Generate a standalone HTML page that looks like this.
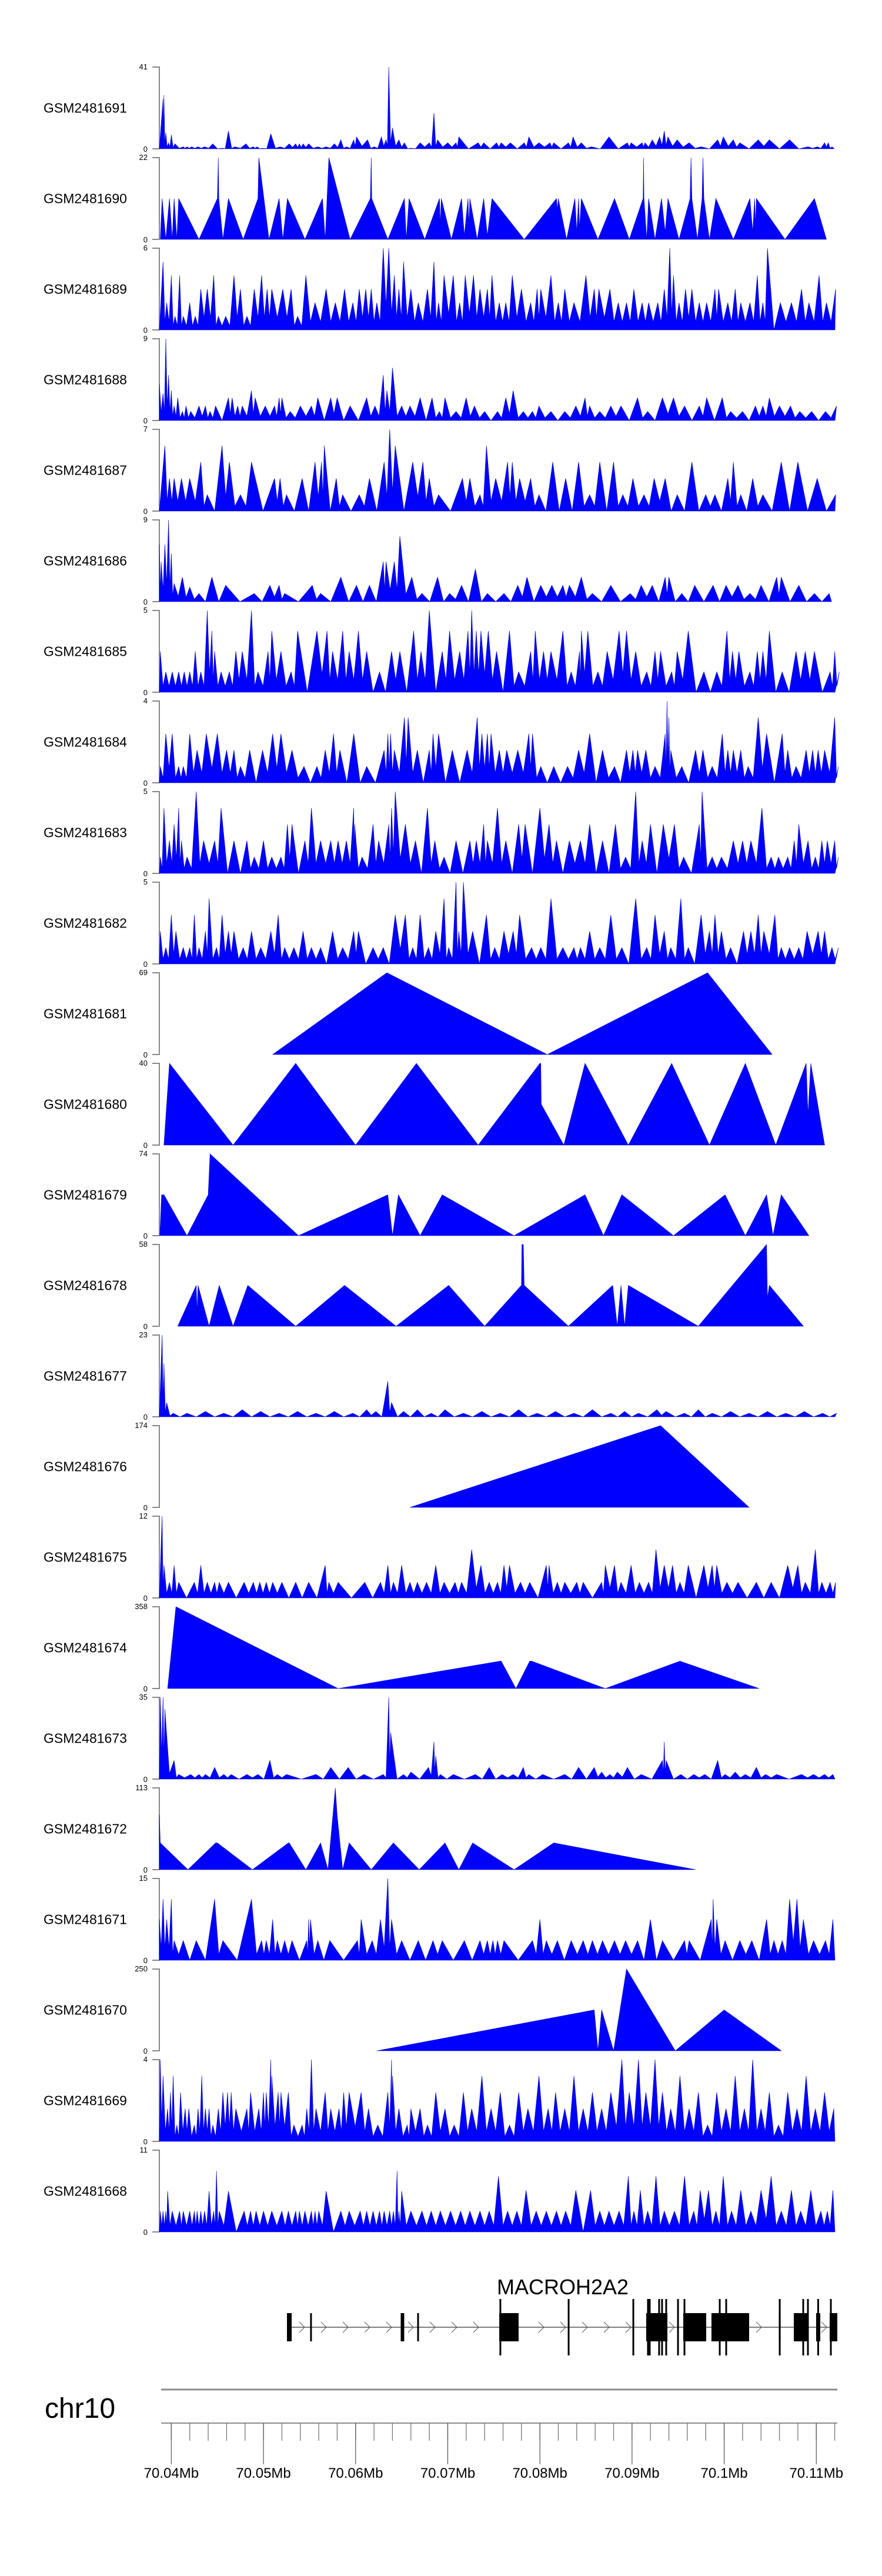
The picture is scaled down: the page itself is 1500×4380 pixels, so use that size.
<!DOCTYPE html>
<html><head><meta charset="utf-8"><title>GSM coverage tracks - MACROH2A2</title>
<style>
html,body{margin:0;padding:0;background:#fff;}
svg{display:block;font-family:"Liberation Sans",Arial,sans-serif;}
</style></head>
<body>
<svg id="fig" width="1500" height="4380" viewBox="0 0 1500 4380" xmlns="http://www.w3.org/2000/svg"></svg>
<script>
// ---------- data ----------
const sampleNames = ['GSM2481691','GSM2481690','GSM2481689','GSM2481688','GSM2481687','GSM2481686','GSM2481685','GSM2481684','GSM2481683','GSM2481682','GSM2481681','GSM2481680','GSM2481679','GSM2481678','GSM2481677','GSM2481676','GSM2481675','GSM2481674','GSM2481673','GSM2481672','GSM2481671','GSM2481670','GSM2481669','GSM2481668'];
const yMax = [41,22,6,9,7,9,5,4,5,5,69,40,74,58,23,174,12,358,35,113,15,250,4,11];
const drawMode = ['spike','line','spike','spike','spike','spike','spike','spike','spike','spike','line','line','line','line','spike','line','spike','line','spike','line','spike','line','spike','spike'];

// positions in kb from region start (70.0387 Mb)
const pos_1691 = [0.4,0.5,0.7,1.0,1.3,1.7,2.6,3.0,3.5,4.2,4.9,5.8,6.8,7.5,8.2,9.4,10.2,10.6,11.2,12.1,13.1,14.1,14.8,15.2,15.6,16.2,17.2,18.1,19.0,19.7,20.3,21.1,21.4,22.6,23.3,24.1,24.6,24.9,25.3,26.0,26.6,27.3,28.3,29.3,29.8,30.2,31.3,32.2,32.5,34.6,35.2,36.6,37.1,38.1,39.6,40.1,41.2,42.4,42.8,44.4,44.9,45.8,46.9,48.8,50.8,51.2,52.4,52.7,53.5,54.3,54.8,55.2,56.2,57.5,58.8,60.6,61.2,62.3,63.0,65.0,66.2,68.4,70.4,71.4,72.2,72.6,73.0];
const val_1691 = [25,27,8,3,7,2.5,1,1,1,1,1,2.5,0.3,9,1,2.5,1,1,0.3,7.5,1,2.5,2.5,2.5,2.5,2.5,1,1,2.5,4.5,1,4.5,6,4.5,1,6,4.5,41,10.5,4.5,3,0.3,3,3,18,4.5,3,3,6,3,3,3,3,3,3,6,3,3,3,3,6,3,1,6,3,3,3,3,4.5,6,9,6,4.5,3,1,4.5,6,4.5,3,4.5,4.5,4.5,1,1,3,3,1];

const pos_1690 = [0.1,0.3,0.7,1.1,1.4,1.6,1.9,2.1,4.3,6.3,6.4,6.45,6.9,7.5,9.1,10.7,10.8,11.9,13.0,13.4,13.9,15.8,17.7,18.0,18.4,20.7,22.9,23.0,23.05,24.8,26.6,26.8,27.1,28.8,30.4,30.5,30.6,31.7,32.8,33.1,33.5,33.6,33.7,34.5,35.2,35.6,36.1,39.6,43.1,43.2,43.3,44.2,45.1,45.3,45.5,45.6,45.8,47.6,49.4,51.0,52.5,52.55,52.6,52.9,53.1,53.8,54.5,54.9,55.2,56.4,57.6,57.7,57.8,58.4,58.9,59.0,59.1,59.7,60.4,62.3,64.1,64.4,64.6,64.7,64.8,67.9,71.1,72.4];
const val_1690 = [0,11,0,11,0,11,0,11,0,11,22,11,0,11,0,11,22,0,11,0,11,0,11,0,22,0,11,22,11,0,11,0,11,0,11,4,11,0,11,1,11,4,11,0,11,1,11,0,11,8,11,0,11,2,11,3,11,0,11,0,11,22,11,0,11,0,11,2,11,0,11,22,11,0,11,22,11,0,11,0,11,2,11,4,11,0,11,0];

const pos_1689 = [0.4,0.8,1.3,1.7,2.2,2.6,3.3,3.9,4.5,5.2,5.9,6.4,7.2,8.1,8.8,9.5,10.3,11.1,11.7,12.2,13.4,14.3,15.0,15.9,16.9,18.1,19.1,20.1,21.0,21.7,22.4,23.0,23.6,24.3,24.9,25.5,26.0,26.5,27.3,28.1,29.1,29.8,30.3,30.9,31.9,32.6,33.2,34.1,34.8,35.6,36.1,36.9,37.6,38.3,39.3,40.3,41.0,41.4,42.5,43.3,44.0,45.0,46.3,47.2,47.7,48.9,49.8,50.7,51.5,52.4,53.1,54.1,54.8,55.4,55.8,56.4,57.1,57.8,58.6,59.4,60.3,60.7,61.7,62.5,63.1,64.1,64.9,65.5,66.0,67.4,68.6,69.7,70.5,71.6,72.4,73.4];
const val_1689 = [5,2,4,1,4,1,2,1,3,3,4,1,1,4,3,1,3,4,3,3,3,3,1,4,2,3,2,3,2,3,3,3,2,6,6,4,3,5,3,2,3,5,2,4,4,2,4,4,3,3,4,2,2,4,3,2,3,3,4,2,3,2,4,3,3,3,2,2,3,2,2,2,3,6,4,2,3,3,2,2,3,3,2,3,2,2,4,2,6,2,2,3,2,4,2,3];

const pos_1688 = [0,0.4,0.7,1.0,1.3,1.6,2.0,2.5,2.9,3.4,4.3,5.0,5.5,6.1,7.5,7.9,8.5,9.0,10.0,10.4,11.5,12.5,13.0,13.3,14.2,15.3,16.5,17.2,18.6,19.3,20.7,22.5,23.4,24.3,24.7,25.3,26.3,27.2,28.3,29.6,30.4,31.0,32.2,33.3,34.2,35.3,36.7,37.6,38.4,39.5,40.5,41.2,42.5,44.0,45.2,46.2,46.7,47.8,49.0,50.1,51.9,53.0,54.6,55.8,57.0,58.6,59.4,61.1,62.0,63.3,64.7,65.5,66.2,67.3,68.5,69.5,70.8,72.3,73.5];
const val_1688 = [4,3,9,5,3.3,1.6,2.5,1,1.6,1,1.6,1.6,1,1.6,2.5,2.5,1.6,1.6,3.3,2.5,1.6,1.6,2.5,2.5,1,1.6,1.6,2.5,2.5,2.5,1.6,2.5,1.6,5,3.3,5.8,1.6,1.6,2.5,2.5,1,2.5,1,2.5,1.6,1,1,2.5,3.3,1,1,1.6,1,1,1.6,2.5,1.6,1,1.6,1.6,2.5,1,2.5,2.5,1.6,1.6,2.5,2.5,1,1,1.6,1.6,2.5,1.6,1.6,1,1,1,1.6];

const pos_1687 = [0.6,1.1,1.6,2.4,3.3,4.5,5.2,6.8,7.6,8.8,10.0,12.5,13.1,13.8,15.5,16.9,17.6,17.9,19.2,19.9,21.7,22.8,24.4,25.0,25.6,27.5,28.6,29.3,30.3,32.9,33.7,34.8,35.5,36.5,37.8,38.3,39.1,40.3,41.2,42.7,44.1,45.5,46.7,47.8,49.3,50.3,51.4,52.6,53.7,54.9,56.2,57.8,59.3,60.3,61.7,62.3,63.1,64.4,65.5,67.5,69.3,71.4,73.4];
const val_1687 = [5.6,2.8,2.8,2.8,2.8,4.2,1.4,5.6,4.2,1.4,4.2,2.8,2.8,1.4,2.8,4.2,4.2,5.6,2.8,1.4,1.4,2.8,4.2,7,5.6,4.2,4.2,2.8,1.4,2.8,2.8,1.4,5.6,2.8,4.2,4.2,2.8,2.8,1.4,4.2,2.8,4.2,1.4,4.2,4.2,1.4,2.8,1.4,2.8,2.8,1.4,4.2,1.4,1.4,2.8,4.2,1.4,2.8,1.4,4.2,4.2,2.8,1.4];

const pos_1686 = [0.0,0.2,0.6,1.0,1.3,1.6,2.5,3.3,4.3,5.7,7.2,10.3,12.0,13.0,13.6,16.6,17.5,19.7,21.4,22.8,24.3,24.6,25.5,26.1,27.4,28.5,30.2,31.5,32.8,34.3,35.6,37.4,38.9,39.9,41.4,42.6,43.8,44.5,45.8,47.0,49.0,51.1,52.3,53.5,54.9,55.3,56.7,58.1,60.1,61.5,62.8,64.1,65.3,67.0,67.5,69.4,71.1,72.7];
const val_1686 = [6.3,4.4,6.3,9,5.3,2,2.7,1.6,0.9,2.7,1.8,0.9,1.8,1.8,0.9,1.8,0.9,2.7,1.8,1.8,4.4,4.4,4.4,7.2,2.7,0.9,2.7,0.9,1.8,3.6,0.9,0.9,1.8,2.7,1.8,1.8,1.8,1.8,2.7,0.9,1.8,0.9,1.8,1.8,2.7,2.7,0.9,1.8,1.8,1.8,1.8,0.9,1.8,2.7,2.7,1.8,0.9,0.9];

const pos_1685 = [0.1,0.7,1.4,2.1,2.7,3.3,3.9,4.5,5.2,5.7,6.0,6.7,7.6,8.3,9.0,10.0,10.7,11.8,12.2,13.2,14.3,15.0,17.1,18.2,18.8,19.9,20.6,21.6,22.5,23.9,25.2,26.1,27.6,28.4,29.3,30.7,31.5,32.6,33.5,33.9,34.4,34.9,35.7,36.6,38.0,39.0,40.3,40.8,41.7,42.5,43.8,44.7,45.6,45.8,46.5,47.6,48.6,49.9,50.7,51.7,52.9,53.8,54.4,55.6,56.2,57.4,59.1,60.5,61.6,62.2,62.9,64.1,64.9,65.5,66.2,67.6,69.1,70.1,71.1,72.8,73.3,73.8];
const val_1685 = [2.5,1.25,1.25,1.25,1.25,1.25,2.5,1.25,5,3.75,2.5,1.25,1.25,2.5,2.5,5,1.25,2.5,3.75,2.5,1.25,3.75,3.75,3.75,2.5,3.75,2.5,3.75,2.5,1.25,2.5,2.5,3.75,2.5,5,2.5,3.75,2.5,3.75,5,3.75,3.75,3.75,2.5,3.75,1.25,2.5,3.75,2.5,2.5,3.75,1.25,2.5,3.75,3.75,1.25,2.5,3.75,3.75,2.5,1.25,2.5,2.5,1.25,2.5,3.75,1.25,1.25,3.75,2.5,2.5,1.25,2.5,2.5,3.75,1.25,2.5,2.5,2.5,1.25,2.5,1.25];

const pos_1684 = [0.1,0.7,1.4,2.1,2.6,3.3,4.1,5.1,6.3,7.3,8.1,8.8,9.8,11.2,12.3,13.2,14.4,15.7,17.1,18.0,18.9,19.6,21.1,22.5,24.4,24.8,25.1,25.5,26.6,27.0,28.0,29.3,29.7,30.3,31.8,33.4,34.5,35.0,35.6,36.0,36.9,37.7,38.9,40.1,40.5,41.4,42.8,44.3,45.5,46.7,48.1,49.4,50.7,51.4,51.9,52.8,53.8,54.9,55.1,55.3,55.5,56.7,58.2,59.0,60.0,61.1,61.7,62.3,63.1,63.9,65.0,65.9,67.6,68.2,69.1,70.2,70.9,71.5,72.2,73.3,73.7];
const val_1684 = [0.8,2.4,2.4,0.8,0.8,2.4,1.6,2.4,2.4,1.6,1.6,0.8,1.6,1.6,2.4,2.4,1.6,0.8,0.8,1.6,2.4,1.6,2.4,0.8,1.6,2.4,2.4,1.6,3.2,3.2,1.6,1.6,2.4,2.4,1.6,1.6,3.2,2.4,2.4,2.4,1.6,1.6,1.6,2.4,2.4,0.8,0.8,0.8,1.6,2.4,1.6,0.8,1.6,1.6,1.6,1.6,0.8,2.4,4,3.2,1.6,0.8,1.6,1.6,0.8,2.4,1.6,1.6,1.6,0.8,3.2,2.4,2.4,1.6,0.8,1.6,1.6,1.6,1.6,3.2,0.8];

const pos_1683 = [0.1,0.5,1.1,1.6,2.1,2.4,3.0,4.0,4.8,6.0,6.7,8.1,9.5,10.3,11.3,12.2,13.2,13.9,14.4,15.8,16.5,17.5,18.6,19.4,20.3,21.1,21.2,22.0,23.2,23.8,24.9,25.2,25.6,26.7,27.8,29.1,29.9,30.9,32.2,33.7,34.4,35.2,35.6,36.7,37.6,39.0,39.7,41.3,42.3,43.1,44.5,45.7,46.7,48.1,49.5,50.6,51.7,52.4,53.3,54.7,55.9,56.9,58.6,58.9,60.0,61.0,62.3,63.3,64.2,65.4,66.4,67.2,68.2,68.9,69.4,70.4,71.2,71.9,72.5,73.3,73.7];
const val_1683 = [1,4,2,3,4,2,1,5,2,2,4,2,2,1,2,1,1,3,3,2,4,2,2,2,2,4,3,1,3,2,3,4,5,3,2,4,2,1,2,2,2,3,2,4,2,3,3,4,3,2,2,2,3,2,3,1,5,2,3,3,3,1,3,5,1,1,2,2,2,4,1,1,1,2,3,2,1,2,2,2,1];

const pos_1682 = [0.1,0.7,1.3,1.8,2.6,3.3,3.8,4.3,5.0,5.4,6.2,6.8,7.5,8.1,9.1,10.0,11.0,12.1,12.9,13.6,14.6,15.6,16.5,17.5,18.8,19.9,21.1,21.6,23.2,24.3,25.6,26.7,27.5,28.3,29.2,30.0,30.9,31.4,32.2,32.5,33.0,34.0,35.5,36.4,37.4,38.4,39.1,40.4,41.4,42.5,43.8,45.0,45.7,46.7,47.8,49.0,50.2,51.7,52.9,53.8,54.8,55.5,56.6,57.4,58.8,59.7,60.3,61.0,62.0,63.4,64.2,65.0,65.6,66.8,67.5,68.4,69.4,70.3,71.5,72.2,73.0,73.7];
const val_1682 = [2,1,3,2,1,1,3,1,2,4,1,3,2,2,1,2,1,2,3,1,1,2,1,1,2,1,2,2,1,1,3,3,1,3,1,2,4,1,5,2,5,2,3,1,2,2,3,1,1,4,1,1,1,2,1,3,1,4,1,3,2,1,4,1,3,2,3,2,1,2,2,3,2,3,1,1,1,2,2,2,1,1];

const pos_1681 = [12.3,24.7,42.1,59.5,66.5];
const val_1681 = [0,69,0,69,0];

const pos_1680 = [0.5,1.1,8.0,14.8,21.3,27.9,34.6,41.3,41.4,41.45,43.9,46.2,50.9,55.6,59.7,63.6,66.9,70.2,70.4,70.7,72.2];
const val_1680 = [0,40,0,40,0,40,0,40,40,20,0,40,0,40,0,40,0,40,15,40,0];

const pos_1679 = [0.05,0.24,0.5,3.0,5.3,5.5,15.1,24.8,25.3,25.95,28.3,30.7,38.5,46.2,48.2,50.2,55.8,61.4,63.6,65.9,66.6,67.5,70.5];
const val_1679 = [0,37,37,0,37,74,0,37,0,37,0,37,0,37,0,37,0,37,0,37,0,37,0];

const pos_1678 = [2.0,4.0,4.1,4.2,5.4,6.5,8.0,9.6,14.8,20.1,25.7,31.4,35.3,39.3,39.35,39.5,39.6,44.4,49.2,49.7,50.1,50.5,50.9,58.5,65.9,66.0,66.2,69.9];
const val_1678 = [0,29,10,29,0,29,0,29,0,29,0,29,0,29,58,58,29,0,29,0,29,0,29,0,58,20,29,0];

const pos_1677 = [0.3,0.5,0.8,1.5,3.0,5.0,7.0,9.0,11.0,13.0,15.0,17.0,19.0,21.0,22.5,23.5,24.8,25.2,26.5,28.0,29.5,31.0,33.0,35.0,37.0,39.0,41.0,43.0,45.0,47.0,49.0,50.5,52.0,54.0,55.0,57.0,58.5,60.0,62.0,64.0,66.0,68.0,70.0,72.0,73.5];
const val_1677 = [23,15,4,1,1,1.5,1,2,1.5,1,1.5,1,1.5,1,2,1.5,10,4,1.5,2,1,2,1,1.5,1,2,1,1.5,1,2,1,1.5,1,2,1.5,1,2,1,1.5,1,1.5,1,1.5,1,1];

const pos_1676 = [27.2,54.4,64.0];
const val_1676 = [0,174,0];

const pos_1675 = [0.3,0.5,1.1,1.6,2.1,3.8,4.5,5.2,6.0,6.5,7.5,9.2,10.2,10.9,11.6,12.3,13.3,14.8,16.2,18.0,18.4,19.4,22.3,24.0,24.8,25.4,26.3,27.2,28.0,29.0,30.0,30.9,32.1,32.8,33.9,34.9,35.8,36.7,37.4,38.0,39.2,40.2,42.0,42.3,43.2,44.0,45.3,46.0,48.0,48.4,49.4,50.1,51.2,52.1,53.1,53.9,54.8,55.7,56.5,57.4,59.1,60.0,60.5,61.6,62.8,64.8,66.4,68.2,69.3,70.1,71.2,71.9,72.8,73.4];
const val_1675 = [12,4.8,2.3,4.8,2.3,2.3,4.8,2.3,2.3,2.3,2.3,2.3,2.3,2.3,2.3,2.3,2.3,2.3,2.3,4.8,2.3,2.3,2.3,2.3,4.8,2.3,4.8,2.3,2.3,2.3,4.8,2.3,2.3,2.3,7.1,4.8,2.3,2.3,4.8,4.8,2.3,2.3,4.8,4.8,2.3,2.3,2.3,2.3,2.3,4.8,4.8,2.3,4.8,2.3,2.3,7.1,4.8,4.8,2.3,4.8,4.8,4.8,4.8,2.3,2.3,2.3,2.3,4.8,4.8,2.3,7.1,2.3,2.3,2.3];

const pos_1674 = [0.9,1.8,19.4,37.0,37.1,38.7,40.2,40.4,48.4,56.5,65.1];
const val_1674 = [0,358,0,120,120,0,120,120,0,120,0];

const pos_1673 = [0.1,0.4,0.6,1.6,2.1,3.4,4.3,5.0,6.0,7.0,7.8,9.5,10.7,12.0,12.8,13.8,17.0,18.6,20.5,22.2,24.3,24.9,25.1,26.5,27.3,29.2,29.8,30.0,30.5,31.9,34.3,35.8,37.2,38.4,39.5,40.1,41.6,44.0,45.5,47.2,48.0,48.9,49.7,50.8,52.3,54.6,54.8,55.0,56.6,58.0,59.2,60.6,61.4,62.5,63.6,64.8,65.8,67.0,69.7,71.0,72.2,73.1];
const val_1673 = [35,35,30,8,2,2,2,2,5,2,2,2,2,8,2,2,2,5,5,2,2,35,20,2,3,5,16,10,2,2,2,5,2,2,5,2,2,2,5,5,3,2,3,5,2,8,16,8,2,2,2,8,2,3,2,5,2,2,2,2,2,2];

const pos_1672 = [0,0.1,3.1,6.1,6.3,10.1,14.0,14.1,15.9,17.5,18.3,19.1,19.3,19.9,20.6,23.0,25.4,28.2,31.0,32.5,34.0,38.5,42.8,58.2];
const val_1672 = [76,37,0,37,37,0,37,37,0,37,0,113,75,0,37,0,37,0,37,0,37,0,37,0];

const pos_1671 = [0.0,0.4,0.8,1.3,1.6,2.6,4.0,6.0,6.9,10.0,11.1,11.6,12.3,12.8,13.6,14.4,16.0,16.2,16.4,17.2,18.5,21.5,21.9,23.1,24.0,24.8,25.2,26.3,28.1,29.7,30.7,33.1,34.8,35.6,36.2,36.7,37.4,40.5,41.3,42.0,43.2,44.7,46.0,47.0,48.1,49.4,50.6,51.9,53.3,54.6,57.0,57.5,59.9,60.1,60.5,61.4,63.0,64.3,65.9,66.7,67.6,68.4,69.2,69.9,71.0,72.3,73.1];
const val_1671 = [7.5,11.2,7.5,11.2,3.6,3.6,3.6,11.2,3.6,11.2,3.6,3.6,7.5,3.6,3.6,3.6,3.6,7.5,7.5,3.6,3.6,3.6,7.5,3.6,7.5,15,7.5,3.6,3.6,3.6,3.6,3.6,3.6,3.6,3.6,3.6,3.6,3.6,7.5,3.6,3.6,3.6,3.6,3.6,3.6,3.6,3.6,3.6,7.5,3.6,3.6,3.6,7.5,11.2,7.5,3.6,3.6,3.6,7.5,3.6,3.6,11.2,11.2,7.5,3.6,3.6,7.5];

const pos_1670 = [23.6,47.2,47.6,48.0,49.3,50.7,56.0,61.3,67.5];
const val_1670 = [0,125,0,125,0,250,0,125,0];

const pos_1669 = [0.1,0.4,0.9,1.2,1.5,1.9,2.3,2.8,3.2,3.8,4.2,4.6,5.0,5.4,5.8,6.4,6.9,7.4,7.8,8.3,9.5,9.9,10.8,11.3,11.6,12.1,12.2,12.9,13.2,14.0,14.6,15.5,16.0,16.5,17.0,18.0,18.6,19.5,20.0,20.6,21.9,22.7,23.7,24.8,25.2,25.3,26.0,26.9,27.3,28.3,29.1,30.0,31.0,32.0,33.0,33.9,35.0,36.0,37.0,38.0,39.0,40.0,41.2,42.2,43.0,44.0,45.0,46.0,47.0,48.0,49.0,50.2,51.0,52.0,52.8,53.8,54.6,55.5,56.5,57.5,58.5,59.5,60.5,61.5,62.5,63.5,64.4,65.3,66.2,67.2,68.2,69.2,70.2,71.2,72.2,73.2];
const val_1669 = [4,3.2,1.6,2.4,3.2,0.8,2.4,1.6,1.6,0.8,1.6,3.2,1.6,1.6,0.8,1.6,2.4,2.4,2.4,1.6,1.6,2.4,1.6,2.4,2.4,4,3.2,2.4,2.4,2.4,0.8,0.8,1.6,4,1.6,2.4,1.6,1.6,2.4,2.4,2.4,1.6,0.8,2.4,4,3.2,1.6,0.8,1.6,1.6,0.8,2.4,1.6,0.8,2.4,1.6,3.2,1.6,2.4,0.8,2.4,1.6,3.2,1.6,2.4,1.6,3.2,1.6,2.4,1.6,2.4,4,2.4,4,2.4,4,2.4,1.6,3.2,1.6,2.4,0.8,2.4,1.6,3.2,1.6,4,1.6,2.4,0.8,2.4,1.6,3.2,1.6,2.4,1.6];

const pos_1668 = [0.1,0.4,0.7,0.9,1.4,2.2,2.6,3.3,3.8,4.1,4.5,4.9,5.4,5.9,6.2,6.5,7.5,9.2,9.9,10.5,11.3,12.2,13.3,14.0,14.8,15.2,15.8,16.5,16.9,17.3,18.1,19.7,20.6,21.8,22.5,23.2,23.9,24.4,25.0,25.4,25.8,26.0,26.3,27.3,28.5,29.5,30.5,31.6,32.7,33.7,34.8,35.8,36.8,37.8,38.8,39.8,40.9,42.0,43.1,44.1,45.2,46.8,47.8,48.8,49.9,50.9,51.5,52.2,53.0,53.9,54.8,55.9,57.0,58.0,58.7,59.6,60.4,61.2,62.1,63.1,64.2,65.3,66.4,67.5,68.6,69.6,70.7,71.8,72.5,73.1];
const val_1668 = [2.8,2.8,2.8,5.5,2.8,2.8,2.8,2.8,2.8,2.8,2.8,2.8,5.5,2.8,8.2,2.8,5.5,2.8,2.8,2.8,2.8,2.8,2.8,2.8,2.8,2.8,2.8,2.8,2.8,2.8,5.5,2.8,2.8,2.8,2.8,2.8,2.8,2.8,2.8,2.8,8.2,2.8,5.5,2.8,2.8,2.8,2.8,2.8,2.8,2.8,2.8,2.8,7.5,2.8,2.8,5.6,2.8,2.8,2.8,2.8,5.6,5.6,2.8,2.8,2.8,7.5,2.8,5.6,2.8,7.5,2.8,2.8,7.5,2.8,5.6,5.6,2.8,7.5,2.8,5.6,2.8,5.6,7.5,2.8,5.6,2.8,5.6,2.8,2.8,5.6];

const trackPos = [pos_1691,pos_1690,pos_1689,pos_1688,pos_1687,pos_1686,pos_1685,pos_1684,pos_1683,pos_1682,pos_1681,pos_1680,pos_1679,pos_1678,pos_1677,pos_1676,pos_1675,pos_1674,pos_1673,pos_1672,pos_1671,pos_1670,pos_1669,pos_1668];
const trackVal = [val_1691,val_1690,val_1689,val_1688,val_1687,val_1686,val_1685,val_1684,val_1683,val_1682,val_1681,val_1680,val_1679,val_1678,val_1677,val_1676,val_1675,val_1674,val_1673,val_1672,val_1671,val_1670,val_1669,val_1668];

// gene model (kb from region start)
const exonStart = [13.85,16.46,26.29,26.48,28.08,36.89,37.01,44.42,51.44,52.84,53.03,53.22,54.24,54.56,55.01,56.29,56.99,56.86,59.92,60.82,61.52,67.33,67.33,68.86,69.88,70.39,71.28,71.5,72.75,72.88];
const exonEnd   = [14.36,16.46,26.29,26.48,28.08,38.99,37.01,44.42,51.44,55.14,53.03,53.22,54.24,54.56,55.01,56.29,56.99,59.35,64.01,60.82,61.52,67.52,67.33,70.45,69.88,70.39,71.73,71.5,73.58,72.88];
const exonTall  = [0,0,0,0,0,0,1,1,1,0,1,1,1,1,1,1,1,0,0,1,1,0,1,0,1,1,0,1,0,1];
const geneName = 'MACROH2A2';

// genome axis
const regionStartMb = 70.0387;
const regionEndMb = 70.1120;
const majorTicksMb = [70.04,70.05,70.06,70.07,70.08,70.09,70.10,70.11];
const majorTickLabels = ['70.04Mb','70.05Mb','70.06Mb','70.07Mb','70.08Mb','70.09Mb','70.1Mb','70.11Mb'];
const chromName = 'chr10';

// ---------- layout ----------
const NS = 'http://www.w3.org/2000/svg';
const svg = document.getElementById('fig');
const X0 = 271, PXPERKB = 15.67;
const TRACK_TOP0 = 114, TRACK_PITCH = 154, TRACK_H = 139;
function xKb(kb){ return X0 + kb*PXPERKB; }
function xMb(mb){ return X0 + (mb-regionStartMb)*1000*PXPERKB; }
function mk(tag, attrs, parent){
  const e = document.createElementNS(NS, tag);
  for (const k in attrs) e.setAttribute(k, attrs[k]);
  (parent||svg).appendChild(e);
  return e;
}

for (let i=0;i<sampleNames.length;i++){
  const top = TRACK_TOP0 + i*TRACK_PITCH, base = top + TRACK_H;
  const yS = v => base - v/yMax[i]*TRACK_H;
  const g = mk('g',{});
  
  
  const lab = mk('text',{x:74,y:top+TRACK_H/2+8,'font-size':23,fill:'#000'},g);
  lab.textContent = sampleNames[i];
  
  
  const ax = mk('path',{d:`M259 ${top}H${X0}V${base}H259`,stroke:'#888',fill:'none','stroke-width':2},g);
  
  
  const tmax = mk('text',{x:251,y:top+4,'font-size':13,'text-anchor':'end',fill:'#000'},g);
  tmax.textContent = String(yMax[i]);
  
  
  const t0 = mk('text',{x:251,y:base+5,'font-size':13,'text-anchor':'end',fill:'#000'},g);
  t0.textContent = '0';
  
  
  const P = trackPos[i], V = trackVal[i];
  let pts = [];
  if (drawMode[i]==='line'){
    for (let k=0;k<P.length;k++) pts.push([xKb(P[k]), yS(V[k])]);
  } else {
    pts.push([X0, base]);
    for (let k=0;k<P.length;k++){
      if (k>0){
        const gap = P[k]-P[k-1];
        const vv = gap < 1.3 ? 0.3*Math.min(V[k-1],V[k]) : 0;
        pts.push([xKb((P[k-1]+P[k])/2), yS(vv)]);
      }
      pts.push([xKb(P[k]), yS(V[k])]);
    }
    pts.push([Math.min(xKb(P[P.length-1])+4, 1420), base]);
  }
  let d = `M${pts[0][0].toFixed(1)} ${base}`;
  for (const p of pts) d += `L${p[0].toFixed(1)} ${p[1].toFixed(1)}`;
  d += `L${pts[pts.length-1][0].toFixed(1)} ${base}Z`;
  const area = mk('path',{d:d,fill:'#0000ff',stroke:'#0000c8','stroke-width':0.6},g);
  
  
}

// ---------- gene model ----------
const gg = mk('g',{});


const GY = 3957;
const gLabel = mk('text',{x:845,y:3901,'font-size':36,fill:'#000'},gg);
gLabel.textContent = geneName;


const gStartKb = Math.min(...exonStart), gEndKb = Math.max(...exonEnd);
const intron = mk('line',{x1:xKb(gStartKb),x2:xKb(gEndKb),y1:GY,y2:GY,stroke:'#333','stroke-width':1.2},gg);


function inBox(x){
  for (let k=0;k<exonStart.length;k++){
    const a=xKb(exonStart[k])-7, b=xKb(exonEnd[k])+4;
    if (x>=a && x<=b) return true;
  }
  return false;
}
for (let x = xKb(gStartKb)+26; x < xKb(gEndKb)-4; x += 37){
  if (inBox(x)) continue;
  const ch = mk('path',{d:`M${x-5} ${GY-9}L${x+4} ${GY}L${x-5} ${GY+9}`,fill:'none',stroke:'#555','stroke-width':1},gg);
  
  
}
for (let k=0;k<exonStart.length;k++){
  const x1 = xKb(exonStart[k]), x2 = xKb(exonEnd[k]);
  const half = exonTall[k] ? 48 : 24;
  const w = Math.max(x2-x1, 3);
  const r = mk('rect',{x:(x2-x1<3? x1-1.5 : x1),y:GY-half,width:w,height:half*2,fill:'#000'},gg);
  
  
}

// ---------- genome axis ----------
const ag = mk('g',{});


const chrLine = mk('line',{x1:274,x2:1424,y1:4063,y2:4063,stroke:'#8c8c8c','stroke-width':3},ag);


const chrText = mk('text',{x:76,y:4111,'font-size':48,fill:'#000'},ag);
chrText.textContent = chromName;


const tickBase = mk('line',{x1:274,x2:1424,y1:4120,y2:4120,stroke:'#8c8c8c','stroke-width':2},ag);


for (let mb = majorTicksMb[0]; mb <= regionEndMb + 1e-9; mb += 0.002){
  const x = xMb(mb);
  const t = mk('line',{x1:x,x2:x,y1:4120,y2:4150,stroke:'#777','stroke-width':1.3},ag);
  
  
}
for (let k=0;k<majorTicksMb.length;k++){
  const x = xMb(majorTicksMb[k]);
  const t = mk('line',{x1:x,x2:x,y1:4120,y2:4190,stroke:'#555','stroke-width':1.2},ag);
  
  
  const lb = mk('text',{x:x,y:4213,'font-size':24,'text-anchor':'middle',fill:'#000'},ag);
  lb.textContent = majorTickLabels[k];
  
  
}
</script>
</body></html>
